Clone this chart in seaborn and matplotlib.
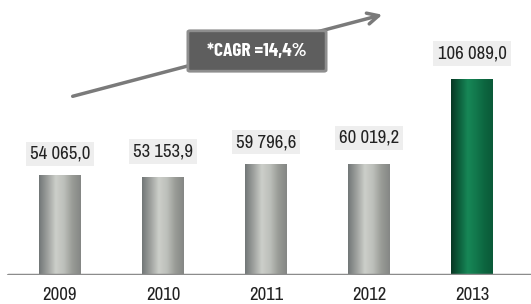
import matplotlib
matplotlib.use('Agg')
import matplotlib.pyplot as plt
from matplotlib.patches import FancyBboxPatch
import seaborn as sns
import pandas as pd
import numpy as np

# data
years = ['2009', '2010', '2011', '2012', '2013']
values = [54065.0, 53153.9, 59796.6, 60019.2, 106089.0]
labels = ['54 065,0', '53 153,9', '59 796,6', '60 019,2', '106 089,0']
kind = ['past', 'past', 'past', 'past', 'current']
cagr_text = '*CAGR =14,4%'

sns.set_style('white')
plt.rcParams['font.family'] = ['Liberation Sans Narrow', 'Archivo Narrow', 'DejaVu Sans']

df = pd.DataFrame({'year': years, 'value': values, 'kind': kind})

W, H = 531, 304
fig = plt.figure(figsize=(W / 100, H / 100), dpi=100)
base = 29  # pixels from bottom to the baseline
ax = fig.add_axes([0, base / H, 1, 1 - base / H])

sns.barplot(data=df, x='year', y='value', hue='kind', dodge=False,
            palette={'past': '#b0b2ae', 'current': '#0e6b45'},
            width=0.4, legend=False, ax=ax)

ax.set_xlim(-60 / 103, (W - 60) / 103)
ax.set_ylim(0, 275 * 540)
ax.axis('off')

# cylinder-like shading on each bar
grey = np.array([[0.45, 0.47, 0.47], [0.62, 0.63, 0.62], [0.80, 0.81, 0.79],
                 [0.74, 0.75, 0.73], [0.60, 0.61, 0.59], [0.52, 0.53, 0.52]])
green = np.array([[0.03, 0.22, 0.14], [0.05, 0.38, 0.24], [0.09, 0.53, 0.34],
                  [0.07, 0.47, 0.30], [0.05, 0.40, 0.25], [0.04, 0.35, 0.22]])
xs = np.linspace(0, 1, grey.shape[0])
xf = np.linspace(0, 1, 64)
for p, k in zip(ax.patches, kind):
    cols = green if k == 'current' else grey
    grad = np.stack([np.interp(xf, xs, cols[:, c]) for c in range(3)], axis=-1)[None, :, :]
    x0, y0 = p.get_x(), p.get_y()
    w, h = p.get_width(), p.get_height()
    im = ax.imshow(grad, extent=[x0, x0 + w, y0, y0 + h], aspect='auto', zorder=3)
    im.set_clip_path(p)
    p.set_edgecolor('none')

# value labels
offsets = [21, 25, 22, 26, 25]
for i, (v, lab) in enumerate(zip(values, labels)):
    ax.text(i, v + offsets[i] * 540, lab, ha='center', va='center', fontsize=13.5,
            color='#222222', zorder=5,
            bbox=dict(boxstyle='square,pad=0.22', facecolor='#eeeeee', edgecolor='none'))

# baseline
ax.axhline(0, xmin=8 / W, xmax=1, color='#8c8c8c', lw=2.5, zorder=4)

# year labels
for i, y in enumerate(years):
    ax.text(i, -20 * 540, y, ha='center', va='center', fontsize=13.5, color='#222222',
            clip_on=False)

# growth arrow and CAGR box
fig.add_artist(plt.Annotation('', xy=(385 / W, 1 - 14 / H), xytext=(70 / W, 1 - 97 / H),
                              xycoords='figure fraction', textcoords='figure fraction',
                              arrowprops=dict(arrowstyle='->,head_length=0.8,head_width=0.4',
                                              color='#7a7a7a', lw=2.5)))
box = FancyBboxPatch((190 / W, 1 - 70 / H), 134 / W, 38 / H,
                     boxstyle='round,pad=0.004', transform=fig.transFigure,
                     facecolor='#5e5e5e', edgecolor='#8e8e8e', lw=2, zorder=6)
fig.add_artist(box)
fig.text(257 / W, 1 - 51 / H, cagr_text, ha='center', va='center', color='white',
         fontsize=14, fontweight='bold', family=['Barlow Condensed', 'DejaVu Sans'],
         zorder=7)

fig.savefig('out.png', dpi=100)
